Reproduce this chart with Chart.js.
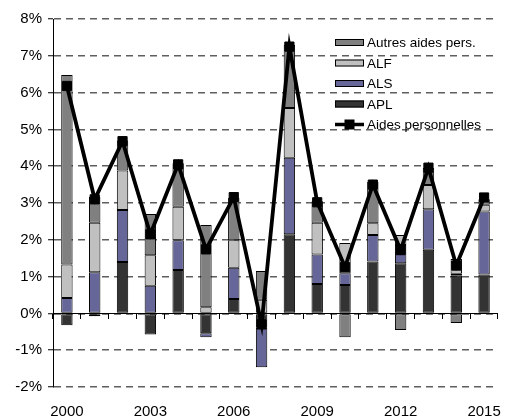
<!DOCTYPE html>
<html>
<head>
<meta charset="utf-8">
<script src="https://cdn.jsdelivr.net/npm/chart.js@4"></script>
<style>
  body { margin: 0; background: #fff; }
  canvas { display: block; }
</style>
</head>
<body>
<canvas id="chart" width="509" height="417"></canvas>
<script>
const years = ['2000', '2001', '2002', '2003', '2004', '2005', '2006', '2007',
               '2008', '2009', '2010', '2011', '2012', '2013', '2014', '2015'];

// contributions, in points of %
const apl    = [-0.32, -0.08, 1.40, -0.57, 1.18, -0.54, 0.39, -0.38, 2.15, 0.80, 0.77, 1.41, 1.36, 1.73, 1.02, 1.06];
const als    = [0.42, 1.12, 1.41, 0.75, 0.81, -0.11, 0.85, -1.08, 2.08, 0.80, 0.32, 0.72, 0.50, 1.10, 0.06, 1.71];
const alf    = [0.91, 1.34, 1.07, 0.83, 0.91, 0.17, 0.75, 0.37, 1.35, 0.86, 0.82, 0.32, 0.27, 0.66, 0.40, 0.18];
const autres = [5.15, 0.71, 0.82, 1.12, 1.18, 2.23, 1.15, 0.78, 1.72, 0.59, -0.65, 1.13, -0.45, 0.46, -0.26, 0.15];
const total  = [6.18, 3.10, 4.68, 2.15, 4.05, 1.74, 3.16, -0.30, 7.25, 3.02, 1.26, 3.50, 1.72, 3.96, 1.30, 3.15];

const yTicks = [-2, -1, 0, 1, 2, 3, 4, 5, 6, 7, 8];

const FONT = 'Liberation Sans, Arial, sans-serif';

// legend drawn inside the plot, top right
const innerLegend = {
  id: 'innerLegend',
  afterDraw(chart) {
    const ctx = chart.ctx;
    const ds = chart.data.datasets;
    const order = [3, 2, 1, 0, 4];
    const x = 335, w = 29, h = 7;
    let y = 42.5;
    ctx.save();
    ctx.font = '13.5px ' + FONT;
    ctx.textBaseline = 'middle';
    order.forEach(i => {
      const d = ds[i];
      if (d.type === 'line') {
        ctx.strokeStyle = '#000';
        ctx.lineWidth = 3.5;
        ctx.beginPath();
        ctx.moveTo(x, y);
        ctx.lineTo(x + w, y);
        ctx.stroke();
        ctx.fillStyle = '#000';
        ctx.fillRect(x + w / 2 - 5, y - 5, 10, 10);
      } else {
        ctx.fillStyle = d.backgroundColor;
        ctx.fillRect(x, y - h / 2, w, h);
        ctx.strokeStyle = '#000';
        ctx.lineWidth = 1;
        ctx.strokeRect(x + 0.5, y - h / 2 + 0.5, w - 1, h - 1);
      }
      ctx.fillStyle = '#000';
      ctx.fillText(d.label, x + w + 3, y + 1);
      y += 20.5;
    });
    ctx.restore();
  }
};

const barDefaults = {
  type: 'bar',
  borderColor: '#000',
  borderWidth: 1,
  borderSkipped: false,
  barPercentage: 0.41,
  categoryPercentage: 1,
  stack: 'aides',
  order: 1
};

new Chart(document.getElementById('chart').getContext('2d'), {
  data: {
    labels: years,
    datasets: [
      { ...barDefaults, label: 'APL', data: apl, backgroundColor: '#333333' },
      { ...barDefaults, label: 'ALS', data: als, backgroundColor: '#666699' },
      { ...barDefaults, label: 'ALF', data: alf, backgroundColor: '#c0c0c0' },
      { ...barDefaults, label: 'Autres aides pers.', data: autres, backgroundColor: '#808080' },
      {
        type: 'line',
        label: 'Aides personnelles',
        data: total,
        borderColor: '#000',
        backgroundColor: '#000',
        borderWidth: 3.8,
        pointStyle: 'rect',
        pointRadius: 6.5,
        pointBorderWidth: 1,
        tension: 0,
        stack: 'total',
        order: 0
      }
    ]
  },
  options: {
    responsive: false,
    animation: false,
    layout: { padding: { left: 0, right: 6, top: 19, bottom: 0 } },
    plugins: {
      legend: { display: false },
      tooltip: { enabled: false }
    },
    scales: {
      x: {
        stacked: true,
        offset: true,
        grid: { display: false },
        border: { display: false },
        ticks: {
          autoSkip: false,
          maxRotation: 0,
          padding: 8,
          color: '#000',
          font: { family: FONT, size: 15 },
          callback: function(v, i) {
            const y = Number(years[i]);
            return (y - 2000) % 3 === 0 ? years[i] : '';
          }
        },
        afterFit: s => { s.height = 30; }
      },
      x0: {
        type: 'category',
        position: { y: 0 },
        offset: true,
        grid: { offset: true, drawOnChartArea: false, drawTicks: true, tickLength: 5, color: '#000' },
        border: { display: true, color: '#000', width: 1, z: 1 },
        ticks: { display: false }
      },
      y: {
        stacked: true,
        min: -2,
        max: 8,
        afterBuildTicks: s => { s.ticks = yTicks.map(v => ({ value: v })); },
        grid: {
          color: c => c.tick && c.tick.value === 0 ? '#000' : '#5f5f5f',
          lineWidth: 1.5,
          tickColor: '#000',
          tickWidth: 1,
          tickLength: 5
        },
        border: { display: true, color: '#000', width: 1, dash: [7, 5] },
        ticks: {
          padding: 6,
          color: '#000',
          font: { family: FONT, size: 15 },
          callback: v => v + '%'
        },
        afterFit: s => { s.width = 53; }
      }
    }
  },
  plugins: [innerLegend]
});
</script>
</body>
</html>
